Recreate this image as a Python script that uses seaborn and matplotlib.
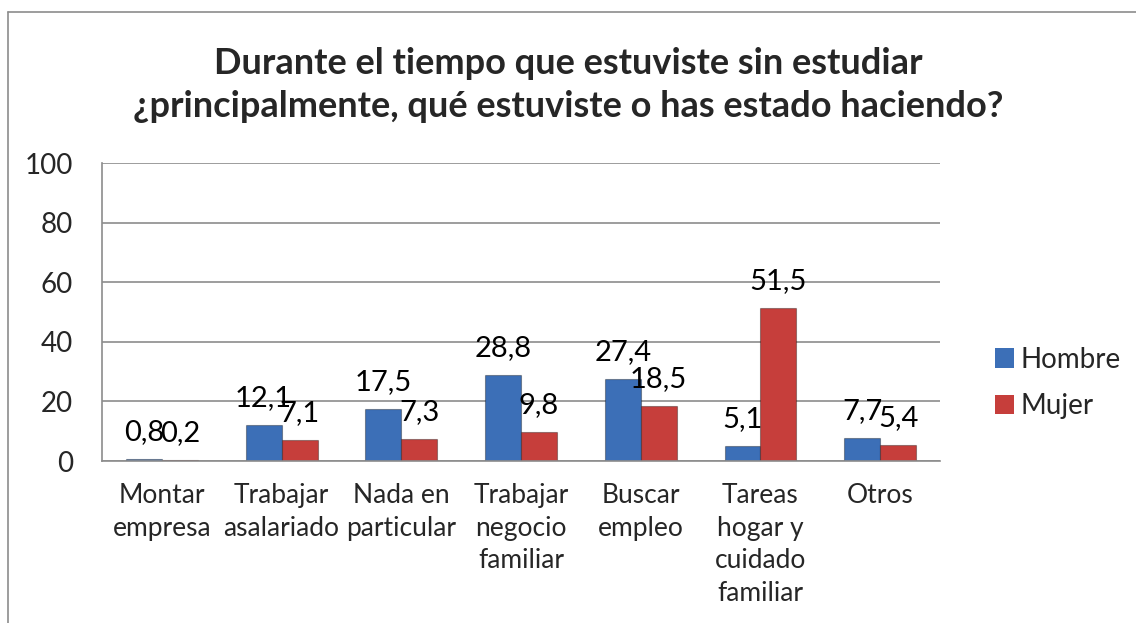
import matplotlib
matplotlib.use("Agg")
import matplotlib.pyplot as plt
import seaborn as sns
import pandas as pd
from matplotlib.lines import Line2D

# Data
categorias = ["Montar\nempresa", "Trabajar\nasalariado", "Nada en\nparticular",
              "Trabajar\nnegocio\nfamiliar", "Buscar\nempleo",
              "Tareas\nhogar y\ncuidado\nfamiliar", "Otros"]
hombre = [0.8, 12.1, 17.5, 28.8, 27.4, 5.1, 7.7]
mujer = [0.2, 7.1, 7.3, 9.8, 18.5, 51.5, 5.4]
series = ["Hombre", "Mujer"]
colores = ["#3C6FB7", "#C63E3B"]

df = pd.DataFrame({
    "categoria": categorias * 2,
    "valor": hombre + mujer,
    "sexo": [series[0]] * len(hombre) + [series[1]] * len(mujer),
})

sns.set_style("white")
plt.rcParams["font.family"] = ["Lato", "DejaVu Sans"]

fig = plt.figure(figsize=(11.36, 6.23), dpi=100)
ax = fig.add_axes([0.0898, 0.26, 0.7377, 0.478])

sns.barplot(data=df, x="categoria", y="valor", hue="sexo", palette=colores,
            width=0.6, ax=ax, edgecolor="none", saturation=1)

for cont in ax.containers:
    for bar in cont:
        bar.set_edgecolor("#00000055")
        bar.set_linewidth(0.8)
    ax.bar_label(cont, labels=[f"{v:.1f}".replace(".", ",") for v in cont.datavalues],
                 fontsize=21, padding=10, color="black")

ax.set_ylim(0, 100)
ax.set_yticks(range(0, 101, 20))
ax.grid(axis="y", color="#8C8C8C", linewidth=1.2)
ax.set_axisbelow(True)
for s in ["top", "right"]:
    ax.spines[s].set_visible(False)
for s in ["left", "bottom"]:
    ax.spines[s].set_color("#8C8C8C")
    ax.spines[s].set_linewidth(1.2)
ax.tick_params(axis="y", length=0, labelsize=20, pad=21)
ax.tick_params(axis="x", length=0, labelsize=19, pad=16)
for t in ax.get_xticklabels():
    t.set_linespacing(1.38)
ax.set_xlabel("")
ax.set_ylabel("")

ax.legend(loc="center left", bbox_to_anchor=(1.065, 0.262), frameon=False,
          fontsize=20, handlelength=0.7, handleheight=0.7, handletextpad=0.25,
          labelspacing=0.75, borderpad=0, borderaxespad=0)

fig.suptitle("Durante el tiempo que estuviste sin estudiar\n¿principalmente, qué estuviste o has estado haciendo?",
             fontsize=26, fontweight="bold", y=0.925, x=0.5, linespacing=1.38)

# chart frame
fig.add_artist(Line2D([8 / 1136, 1.0], [1 - 12 / 623, 1 - 12 / 623], color="#8C8C8C", lw=1.2))
fig.add_artist(Line2D([8 / 1136, 8 / 1136], [0, 1 - 12 / 623], color="#8C8C8C", lw=1.2))

fig.savefig("out.png", dpi=100)
